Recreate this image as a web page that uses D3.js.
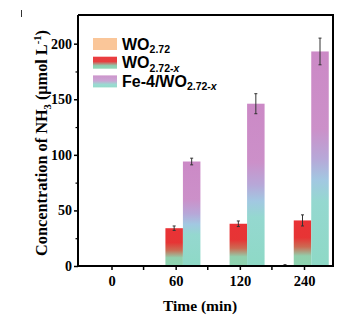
<!DOCTYPE html>
<html>
<head>
<meta charset="utf-8">
<script src="https://cdn.jsdelivr.net/npm/d3@7"></script>
<style>
  html, body { margin: 0; padding: 0; background: #fff; }
  svg { display: block; }
</style>
</head>
<body>
<svg id="chart" width="346" height="322"></svg>
<script>
// Reaction time points (min)
const categories = ["0", "60", "120", "240"];
// Series names
const seriesNames = ["WO2.72", "WO2.72-x", "Fe-4/WO2.72-x"];
// NH3 concentration (µmol L^-1) for each series at each time
const wo272 = [0, 0, 0, 0.6];
const wo272x = [0, 34, 38, 41];
const fe4 = [0, 94, 146, 193];
// Error bar half-widths
const wo272Err = [0, 0, 0, 0.6];
const wo272xErr = [0, 2, 2.5, 5];
const fe4Err = [0, 3, 9, 12];
// Axis ticks
const yTicks = [0, 50, 100, 150, 200];
const yMinorTicks = [25, 75, 125, 175];

const svg = d3.select("#chart");
const mLeft = 78, mRight = 333, mTop = 15, mBottom = 266;

const x = d3.scalePoint().domain(categories).range([111.5, 304]);
const y = d3.scaleLinear().domain([0, 225.8]).range([mBottom, mTop]);
const barW = 17.5;

// Gradients
const defs = svg.append("defs");
function grad(id, stops) {
  const g = defs.append("linearGradient").attr("id", id)
    .attr("x1", 0).attr("y1", 0).attr("x2", 0).attr("y2", 1);
  stops.forEach(([o, c]) => g.append("stop").attr("offset", o).attr("stop-color", c));
}
grad("gRed", [[0, "#e8272b"], [0.38, "#e52a2a"], [0.58, "#c9634a"], [0.78, "#8ccda8"], [1, "#86d2ad"]]);
grad("gPurple", [[0, "#c983c3"], [0.36, "#c98ac6"], [0.5, "#b3a3d6"], [0.6, "#9dc5e0"], [0.7, "#8fd6cd"], [1, "#88d7c3"]]);
grad("gRedLeg", [[0, "#e8272b"], [0.4, "#e52a2a"], [0.75, "#7fcaa8"], [1, "#86d2ad"]]);
grad("gPurpleLeg", [[0, "#c889c6"], [0.45, "#c49ccf"], [0.75, "#8fd6cd"], [1, "#88d7c3"]]);

const series = [
  { name: seriesNames[0], values: wo272, err: wo272Err, fill: "#f9c08e", offset: -1 },
  { name: seriesNames[1], values: wo272x, err: wo272xErr, fill: "url(#gRed)", offset: 0 },
  { name: seriesNames[2], values: fe4, err: fe4Err, fill: "url(#gPurple)", offset: 1 }
];

const cx = c => x(c) - 1.5;

// Bars
series.forEach(s => {
  svg.append("g").selectAll("rect")
    .data(categories.map((c, i) => ({ c, v: s.values[i], e: s.err[i] })).filter(d => d.v > 0))
    .join("rect")
    .attr("x", d => cx(d.c) + s.offset * barW - barW / 2)
    .attr("width", barW)
    .attr("y", d => y(d.v))
    .attr("height", d => y(0) - y(d.v))
    .attr("fill", s.fill)
    .attr("opacity", 0.95);
});

// Error bars
series.forEach(s => {
  const g = svg.append("g").attr("stroke", "#333").attr("stroke-width", 1);
  categories.forEach((c, i) => {
    if (s.values[i] <= 0) return;
    const px = cx(c) + s.offset * barW;
    const v = s.values[i], e = s.err[i];
    g.append("line").attr("x1", px).attr("x2", px).attr("y1", y(v + e)).attr("y2", y(v - e));
    [v + e, v - e].forEach(t => g.append("line")
      .attr("x1", px - 1.5).attr("x2", px + 1.5).attr("y1", y(t)).attr("y2", y(t)));
  });
});

// Frame (top and right)
svg.append("path")
  .attr("d", `M${mLeft},${mTop}H${mRight}V${mBottom}`)
  .attr("fill", "none").attr("stroke", "#000").attr("stroke-width", 2);

// Y axis
const yAxis = d3.axisLeft(y).tickValues(yTicks).tickSize(4).tickPadding(2).tickSizeOuter(0);
const gy = svg.append("g").attr("transform", `translate(${mLeft},0)`).call(yAxis);
gy.select(".domain").attr("stroke-width", 2).attr("d", `M0,${mTop}V${mBottom}`);
gy.selectAll(".tick line").attr("stroke-width", 1.5);
gy.selectAll(".tick text")
  .attr("font-family", "Liberation Serif, serif").attr("font-weight", "bold")
  .attr("font-size", 14).attr("fill", "#000");
svg.append("g").attr("transform", `translate(${mLeft},0)`)
  .call(d3.axisLeft(y).tickValues(yMinorTicks).tickSize(2.5).tickFormat(""))
  .call(g => g.select(".domain").remove())
  .selectAll("line").attr("stroke-width", 1.2);

// X axis
const xAxis = d3.axisBottom(x).tickSize(4).tickPadding(6).tickSizeOuter(0);
const gx = svg.append("g").attr("transform", `translate(0,${mBottom})`).call(xAxis);
gx.select(".domain").attr("stroke-width", 2).attr("d", `M${mLeft - 1},0H${mRight + 1}`);
gx.selectAll(".tick line").attr("stroke-width", 1.5);
gx.selectAll(".tick text")
  .attr("font-family", "Liberation Serif, serif").attr("font-weight", "bold")
  .attr("font-size", 14.5).attr("fill", "#000");
// minor x ticks between categories
const mids = d3.pairs(categories).map(([a, b]) => (x(a) + x(b)) / 2);
gx.append("g").selectAll("line").data(mids).join("line")
  .attr("x1", d => d).attr("x2", d => d).attr("y1", 0).attr("y2", 4)
  .attr("stroke", "#000").attr("stroke-width", 1.5);

// Axis titles
svg.append("text")
  .attr("x", 200).attr("y", 311)
  .attr("text-anchor", "middle")
  .attr("font-family", "Liberation Serif, serif").attr("font-weight", "bold")
  .attr("font-size", 15.5).attr("fill", "#000")
  .text("Time (min)");

const yt = svg.append("text")
  .attr("transform", "translate(47,143) rotate(-90)")
  .attr("text-anchor", "middle")
  .attr("font-family", "Liberation Serif, serif").attr("font-weight", "bold")
  .attr("font-size", 16.3).attr("fill", "#000");
yt.append("tspan").text("Concentration of NH");
yt.append("tspan").attr("font-size", 10.5).attr("dy", 4).text("3");
yt.append("tspan").attr("dy", -4).text(" (μmol L");
yt.append("tspan").attr("font-size", 10.5).attr("dy", -6).text("-1");
yt.append("tspan").attr("dy", 6).text(")");

// Legend
const legendFills = ["#f9c08e", "url(#gRedLeg)", "url(#gPurpleLeg)"];
const legendMain = ["WO", "WO", "Fe-4/WO"];
const legendSub = ["2.72", "2.72-", "2.72-"];
const legendItalic = ["", "x", "x"];
const lg = svg.append("g");
[0, 1, 2].forEach(i => {
  const ly = 38 + i * 18.7;
  lg.append("rect").attr("x", 93).attr("y", ly).attr("width", 24).attr("height", 12)
    .attr("fill", legendFills[i]).attr("opacity", 0.9);
  const t = lg.append("text").attr("x", 122).attr("y", ly + 11.5)
    .attr("font-family", "Liberation Sans, Arial, sans-serif").attr("font-weight", "bold")
    .attr("font-size", 16).attr("fill", "#000");
  t.append("tspan").text(legendMain[i]);
  t.append("tspan").attr("font-size", 10.5).attr("dy", 3.5).text(legendSub[i]);
  if (legendItalic[i]) t.append("tspan").attr("font-size", 10.5).attr("font-style", "italic").text(legendItalic[i]);
});

// small mark at top-left corner
svg.append("line").attr("x1", 21.5).attr("x2", 21.5).attr("y1", 10).attr("y2", 17)
  .attr("stroke", "#333").attr("stroke-width", 1);
</script>
</body>
</html>
